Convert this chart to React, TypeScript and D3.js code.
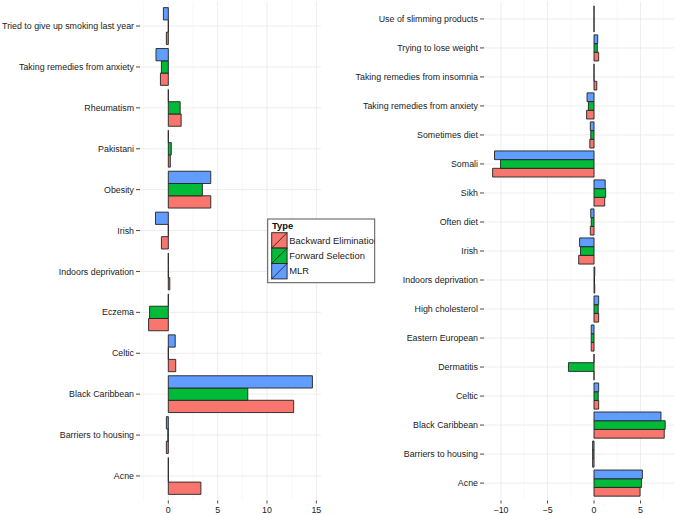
import React from "react";
import * as d3 from "d3";

const types = ["Backward Elimination", "Forward Selection", "MLR"];
const typeColors = ["#F8766D", "#00BA38", "#619CFF"];

// Left panel (top to bottom)
const leftCategories = [
  "Tried to give up smoking last year",
  "Taking remedies from anxiety",
  "Rheumatism",
  "Pakistani",
  "Obesity",
  "Irish",
  "Indoors deprivation",
  "Eczema",
  "Celtic",
  "Black Caribbean",
  "Barriers to housing",
  "Acne",
];
const leftBackward = [-0.2, -0.8, 1.3, 0.2, 4.3, -0.7, 0.15, -2.0, 0.75, 12.7, -0.2, 3.3];
const leftForward = [0, -0.7, 1.2, 0.3, 3.45, 0, 0, -1.9, 0, 8.05, -0.05, 0];
const leftMLR = [-0.5, -1.25, 0, 0, 4.3, -1.3, 0, 0, 0.7, 14.6, -0.2, 0];
const leftTicks = [0, 5, 10, 15];
const leftMinorTicks = [-2.5, 2.5, 7.5, 12.5];

// Right panel (top to bottom)
const rightCategories = [
  "Use of slimming products",
  "Trying to lose weight",
  "Taking remedies from insomnia",
  "Taking remedies from anxiety",
  "Sometimes diet",
  "Somali",
  "Sikh",
  "Often diet",
  "Irish",
  "Indoors deprivation",
  "High cholesterol",
  "Eastern European",
  "Dermatitis",
  "Celtic",
  "Black Caribbean",
  "Barriers to housing",
  "Acne",
];
const rightBackward = [0, 0.5, 0.3, -0.8, -0.45, -10.9, 1.15, -0.4, -1.65, 0.08, 0.5, -0.3, 0, 0.5, 7.55, -0.15, 4.95];
const rightForward = [0, 0.35, 0, -0.6, -0.35, -10.05, 1.25, -0.3, -1.45, 0.05, 0.45, -0.3, -2.75, 0.45, 7.65, -0.15, 5.1];
const rightMLR = [0, 0.4, 0, -0.75, -0.4, -10.7, 1.2, -0.35, -1.55, 0.08, 0.5, -0.3, 0, 0.5, 7.2, -0.15, 5.2];
const rightTicks = [-10, -5, 0, 5];
const rightMinorTicks = [-7.5, -2.5, 2.5, 7.5];

const FONT = "'Liberation Sans', Arial, Helvetica, sans-serif";
const TEXT = "#222222";

type PanelProps = {
  categories: string[];
  series: number[][]; // in order of types
  xDomain: [number, number];
  xRange: [number, number];
  ticks: number[];
  minorTicks: number[];
};

function Panel({ categories, series, xDomain, xRange, ticks, minorTicks }: PanelProps) {
  const yTop = 1.5;
  const yBottom = 500.5;
  const x = d3.scaleLinear().domain(xDomain).range(xRange);
  const y = d3.scalePoint<string>().domain(categories).range([yTop, yBottom]).padding(0.6);
  const step = y.step();
  const inner = d3
    .scaleBand<string>()
    .domain(["MLR", "Forward Selection", "Backward Elimination"])
    .range([-0.45 * step, 0.45 * step])
    .padding(0);
  const x0 = x(0);
  return (
    <g>
      {minorTicks.map((t) => (
        <line key={"mi" + t} x1={x(t)} x2={x(t)} y1={yTop} y2={yBottom} stroke="#f3f3f3" strokeWidth={0.6} />
      ))}
      {ticks.map((t) => (
        <line key={"ma" + t} x1={x(t)} x2={x(t)} y1={yTop} y2={yBottom} stroke="#e9e9e9" strokeWidth={0.8} />
      ))}
      {categories.map((c) => (
        <line key={"h" + c} x1={xRange[0]} x2={xRange[1]} y1={y(c)!} y2={y(c)!} stroke="#e9e9e9" strokeWidth={0.8} />
      ))}
      {categories.map((c, i) =>
        types.map((t, ti) => {
          const v = series[ti][i];
          const yy = (y(c) as number) + (inner(t) as number);
          const h = inner.bandwidth();
          const xa = Math.min(x0, x(v));
          const xb = Math.max(x0, x(v));
          const d = `M${xa},${yy}H${xb}V${yy + h}H${xa}Z`;
          return (
            <path key={c + t} d={d} fill={typeColors[ti]} stroke="#222" strokeWidth={0.9} />
          );
        })
      )}
      {categories.map((c) => (
        <g key={"l" + c}>
          <line x1={xRange[0] - 4} x2={xRange[0]} y1={y(c)!} y2={y(c)!} stroke="#333" strokeWidth={0.9} />
          <text
            x={xRange[0] - 6}
            y={y(c)!}
            dy="0.35em"
            textAnchor="end"
            fontFamily={FONT}
            fontSize={8.85}
            fill={TEXT}
          >
            {c}
          </text>
        </g>
      ))}
      {ticks.map((t) => (
        <g key={"xt" + t}>
          <line x1={x(t)} x2={x(t)} y1={yBottom} y2={yBottom + 3} stroke="#333" strokeWidth={0.9} />
          <text x={x(t)} y={513.3} textAnchor="middle" fontFamily={FONT} fontSize={8.85} fill={TEXT}>
            {t < 0 ? "\u2212" + Math.abs(t) : t}
          </text>
        </g>
      ))}
    </g>
  );
}

function Legend() {
  const bx = 267.7;
  const by = 219;
  const bw = 107;
  const bh = 63.7;
  const key = 15.4;
  const kx = 271.7;
  const ky = 232.7;
  return (
    <g>
      <defs>
        <clipPath id="legclip">
          <rect x={bx} y={by} width={bw} height={bh} />
        </clipPath>
      </defs>
      <rect x={bx} y={by} width={bw} height={bh} fill="white" stroke="#555" strokeWidth={1} />
      <g clipPath="url(#legclip)">
        <text x={272} y={229} fontFamily={FONT} fontSize={9.4} fontWeight="bold" fill="#111">
          Type
        </text>
        {types.map((t, i) => (
          <g key={t}>
            <rect x={kx} y={ky + i * key} width={key} height={key} fill={typeColors[i]} stroke="#222" strokeWidth={0.9} />
            <line x1={kx} y1={ky + (i + 1) * key} x2={kx + key} y2={ky + i * key} stroke="#222" strokeWidth={0.9} />
            <text x={289.3} y={ky + i * key + key / 2} dy="0.35em" fontFamily={FONT} fontSize={9.4} fill="#222">
              {t}
            </text>
          </g>
        ))}
      </g>
    </g>
  );
}

export default function App() {
  return (
    <svg
      width={675}
      height={515}
      style={{ position: "absolute", left: 0, top: 0, background: "white" }}
    >
      <rect x={0} y={0} width={675} height={515} fill="white" />
      <Panel
        categories={leftCategories}
        series={[leftBackward, leftForward, leftMLR]}
        xDomain={[-2.87, 15.47]}
        xRange={[140, 321]}
        ticks={leftTicks}
        minorTicks={leftMinorTicks}
      />
      <Panel
        categories={rightCategories}
        series={[rightBackward, rightForward, rightMLR]}
        xDomain={[-11.83, 8.6]}
        xRange={[484, 674]}
        ticks={rightTicks}
        minorTicks={rightMinorTicks}
      />
      <Legend />
    </svg>
  );
}
